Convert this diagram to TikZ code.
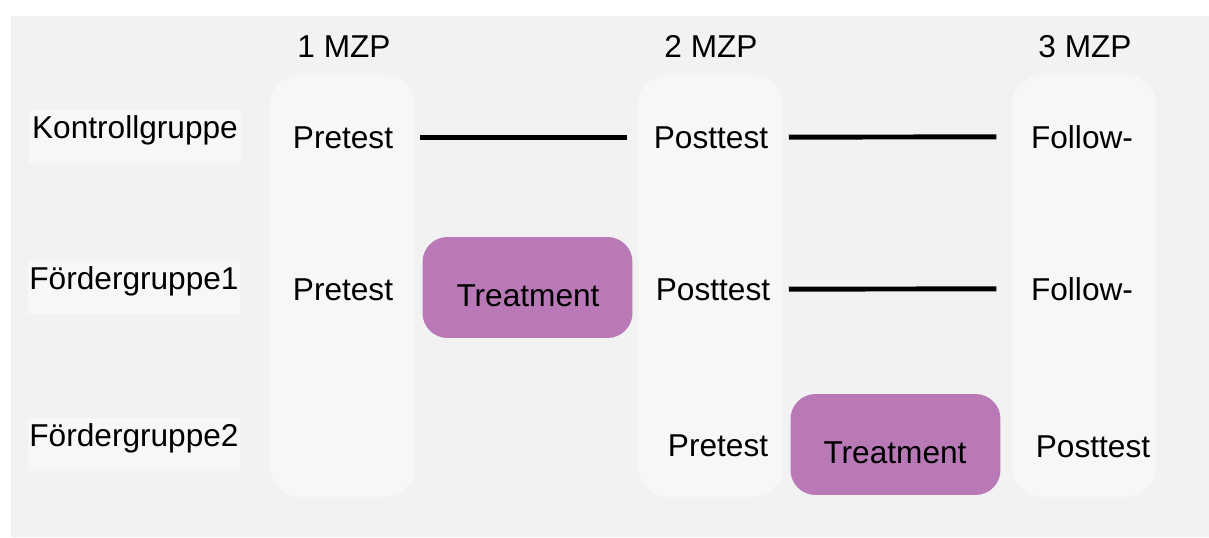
\documentclass[tikz,border=0pt]{standalone}
\usepackage{fontspec}
\setmainfont{Liberation Sans}
\usepackage{tikz}
\usetikzlibrary{positioning}

\definecolor{panelgray}{HTML}{F2F2F2}
\definecolor{boxgray}{HTML}{F7F7F7}
\definecolor{treatpurple}{HTML}{B978B6}

\begin{document}
\begin{tikzpicture}[
    x=0.02cm,
    y=-0.02cm,
    every node/.style={font=\fontsize{18}{21}\selectfont},
    mzp/.style={
        fill=boxgray,
        rounded corners=0.6cm,
        minimum width=2.9cm,
        minimum height=8.44cm,
        inner sep=0pt
    },
    group/.style={
        fill=boxgray,
        minimum width=4.24cm,
        minimum height=1.06cm,
        inner sep=0pt,
        text height=0.72em,
        text depth=0.47em
    },
    treat/.style={
        fill=treatpurple,
        rounded corners=0.5cm,
        minimum width=4.2cm,
        minimum height=2.02cm,
        inner sep=0pt
    },
    txt/.style={anchor=base},
    link/.style={line width=2.8pt}
]

\useasboundingbox (0,0) rectangle (1209,537);
\fill[panelgray] (11,16) rectangle (1209,537);

% Measurement columns
\node[mzp] (mzp1) at (342.5,286) {};
\node[mzp] (mzp2) at (710.5,286) {};
\node[mzp] (mzp3) at (1084,286) {};

\node[txt] (head1) at (344,58)  {1 MZP};
\node[txt] (head2) at (711,58)  {2 MZP};
\node[txt] (head3) at (1085,58) {3 MZP};

% Groups
\node[group] (kg)  at (135,136.5) {Kontrollgruppe};
\node[group] (fg1) at (134,287.5) {Fördergruppe1};
\node[group] (fg2) at (134,444)   {Fördergruppe2};

% Treatments
\node[treat] (treat1) at (527.5,287.5) {};
\node[treat] (treat2) at (895.5,444.5) {};
\node[txt] (treat1txt) at (528,306) {Treatment};
\node[txt] (treat2txt) at (895,463) {Treatment};

% Tests
\node[txt] (pre1)    at (343,148)  {Pretest};
\node[txt] (post1)   at (711,148)  {Posttest};
\node[txt] (follow1) at (1082,148) {Follow-};

\node[txt] (pre2)    at (343,300)  {Pretest};
\node[txt] (post2)   at (713,300)  {Posttest};
\node[txt] (follow2) at (1082,300) {Follow-};

\node[txt] (pre3)  at (718,456)  {Pretest};
\node[txt] (post3) at (1093,457) {Posttest};

% Lines
\draw[link, shorten <=0.41cm, shorten >=0.41cm] (pre1) -- (post1);
\draw[link, shorten <=0.29cm, shorten >=0.57cm] (post1) -- (follow1);
\draw[link, shorten <=0.25cm, shorten >=0.57cm] (post2) -- (follow2);

\end{tikzpicture}
\end{document}
